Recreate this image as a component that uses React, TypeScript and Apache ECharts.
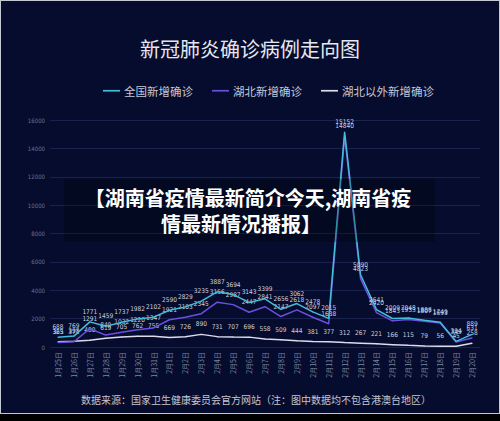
import React, { useEffect, useRef } from "react";
import * as echarts from "echarts";

const categories = [
  "1月25日", "1月26日", "1月27日", "1月28日", "1月29日", "1月30日", "1月31日",
  "2月1日", "2月2日", "2月3日", "2月4日", "2月5日", "2月6日", "2月7日", "2月8日",
  "2月9日", "2月10日", "2月11日", "2月12日", "2月13日", "2月14日", "2月15日",
  "2月16日", "2月17日", "2月18日", "2月19日", "2月20日",
];
const nationalNew = [
  688, 769, 1771, 1459, 1737, 1982, 2102, 2590, 2829, 3235, 3887, 3694, 3143, 3399,
  2656, 3062, 2478, 2015, 15152, 5090, 2641, 2009, 2048, 1886, 1749, 394, 889,
];
const hubeiNew = [
  323, 371, 1291, 840, 1032, 1220, 1347, 1921, 2103, 2345, 3156, 2987, 2447, 2841,
  2147, 2618, 2097, 1638, 14840, 4823, 2420, 1843, 1933, 1807, 1693, 349, 631,
];
const outsideHubeiNew = [
  365, 398, 480, 619, 705, 762, 755, 669, 726, 890, 731, 707, 696, 558,
  509, 444, 381, 377, 312, 267, 221, 166, 115, 79, 56, 45, 258,
];
const seriesNames = ["全国新增确诊", "湖北新增确诊", "湖北以外新增确诊"];
const seriesColors = ["#45bcd8", "#6a50dc", "#dcdcec"];

const titleText = "新冠肺炎确诊病例走向图";
const sourceText = "数据来源：国家卫生健康委员会官方网站（注：图中数据均不包含港澳台地区）";
const overlayLine1 = "【湖南省疫情最新简介今天,湖南省疫";
const overlayLine2 = "情最新情况播报】";

const CJK = "'Noto Sans CJK SC', 'Noto Sans', sans-serif";
const NUM = "'DejaVu Sans Condensed', 'Liberation Sans Narrow', 'Liberation Sans', sans-serif";

export default function App() {
  const ref = useRef<HTMLDivElement>(null);
  useEffect(() => {
    if (!ref.current) return;
    const chart = echarts.init(ref.current, undefined, { renderer: "svg" });
    const dataSets = [nationalNew, hubeiNew, outsideHubeiNew];
    chart.setOption({
      animation: false,
      backgroundColor: "transparent",
      title: {
        text: titleText,
        left: "center",
        top: 33,
        textStyle: { color: "#e6e8f0", fontSize: 20, fontWeight: "normal", fontFamily: CJK },
      },
      legend: {
        left: 98,
        top: 80,
        itemWidth: 17,
        itemHeight: 12,
        itemGap: 19,
        icon: "path://M0,5 L20,5 L20,7 L0,7 Z",
        textStyle: { color: "#c4c8d4", fontSize: 11.5, fontFamily: CJK, padding: [0, 0, 0, -1] },
        data: seriesNames,
      },
      grid: { left: 50, right: 20, top: 120, bottom: 74, containLabel: false },
      xAxis: {
        type: "category",
        data: categories,
        boundaryGap: true,
        axisLine: { show: false },
        axisTick: { show: false },
        axisLabel: {
          interval: 0,
          rotate: 90,
          fontSize: 7,
          margin: 5,
          color: "#7e86a2",
          fontFamily: CJK,
        },
      },
      yAxis: {
        type: "value",
        min: 0,
        max: 16000,
        interval: 2000,
        axisLine: { show: false },
        axisTick: { show: false },
        axisLabel: {
          fontSize: 6,
          color: "#6c7392",
          margin: 5,
          fontFamily: NUM,
          formatter: (v: number) => String(v),
        },
        splitLine: { lineStyle: { color: "#1a2350", width: 1 } },
      },
      series: seriesNames.map((name, i) => ({
        name,
        type: "line",
        data: dataSets[i],
        symbol: "circle",
        symbolSize: 1,
        showSymbol: true,
        z: 3 - i,
        lineStyle: { color: seriesColors[i], width: 1.5 },
        itemStyle: { color: seriesColors[i] },
        label: {
          show: true,
          position: "top",
          distance: 6,
          fontSize: 6.5,
          color: "#cdd0dc",
          fontFamily: NUM,
          formatter: (p: any) => String(p.value),
        },
      })),
      graphic: [
        {
          type: "rect",
          shape: { x: 64, y: 179, width: 371, height: 63 },
          style: { fill: "rgba(0,0,0,0.25)" },
          z: 100,
        },
        {
          type: "text",
          x: 248,
          y: 197,
          z: 101,
          style: {
            text: overlayLine1,
            fill: "#ffffff",
            fontSize: 20,
            fontWeight: "bold",
            fontFamily: CJK,
            align: "center",
            verticalAlign: "middle",
          },
        },
        {
          type: "text",
          x: 241,
          y: 223,
          z: 101,
          style: {
            text: overlayLine2,
            fill: "#ffffff",
            fontSize: 20,
            fontWeight: "bold",
            fontFamily: CJK,
            align: "center",
            verticalAlign: "middle",
          },
        },
        {
          type: "text",
          x: 256,
          y: 399,
          style: {
            text: sourceText,
            fill: "#c2c6d2",
            fontSize: 10,
            fontFamily: CJK,
            align: "center",
            verticalAlign: "middle",
          },
        },
      ],
    });
    return () => chart.dispose();
  }, []);

  return (
    <div style={{ position: "fixed", left: 0, top: 0, width: 500, height: 421, background: "#000" }}>
      <div
        style={{
          position: "absolute",
          left: 0,
          top: 0,
          width: 500,
          height: 414,
          boxSizing: "border-box",
          border: "1px solid #c4c8d2",
          background: "#060c2e",
        }}
      />
      <div ref={ref} style={{ position: "absolute", left: 0, top: 0, width: 500, height: 421 }} />
    </div>
  );
}
